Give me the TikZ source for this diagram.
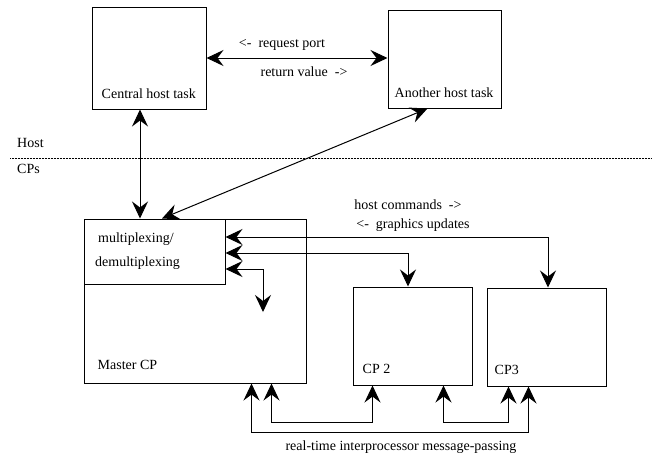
\documentclass[tikz,border=0pt]{standalone}
\usepackage{fontspec}
\setmainfont{Liberation Serif}
\usepackage{tikz}
\usetikzlibrary{arrows.meta}

\begin{document}
\begin{tikzpicture}[x=1pt,y=-1pt,
    >={Stealth[length=17pt,width=16pt,inset=6pt]},
    box/.style={draw, line width=1pt, inner sep=0pt},
    lbl/.style={font=\fontsize{14}{16}\selectfont, inner sep=0pt},
    link/.style={line width=1pt, <->}]
    \useasboundingbox (0,0) rectangle (657,459);
    \node[box, minimum width=114pt, minimum height=102pt] (ctask) at (149,58) {};
    \node[box, minimum width=113pt, minimum height=98pt] (otask) at (444.5,59) {};
    \node[box, minimum width=222pt, minimum height=164pt] (master) at (195,301) {};
    \node[box, minimum width=141pt, minimum height=65pt] (mux) at (154.5,251.5) {};
    \node[box, minimum width=119pt, minimum height=98pt] (cp2) at (412.5,336) {};
    \node[box, minimum width=119pt, minimum height=98pt] (cp3) at (546.5,337) {};
    \node[lbl, anchor=base west] (ctasklbl) at ([xshift=10pt,yshift=11pt]ctask.south west) {Central host task};
    \node[lbl, anchor=base west] (otasklbl) at ([xshift=7pt,yshift=11pt]otask.south west) {Another host task};
    \node[lbl, anchor=base west] (masterlbl) at ([xshift=14pt,yshift=14pt]master.south west) {Master CP};
    \node[lbl, anchor=base west] (cp2lbl) at ([xshift=10pt,yshift=12pt]cp2.south west) {CP 2};
    \node[lbl, anchor=base west] (cp3lbl) at ([xshift=8pt,yshift=12pt]cp3.south west) {CP3};
    \node[lbl, anchor=base west] (muxlbl1) at (98,242) {multiplexing/};
    \node[lbl, anchor=base west] (muxlbl2) at (95,266) {demultiplexing};
    \node[lbl, anchor=base west] (hostlbl) at (17,147) {Host};
    \node[lbl, anchor=base west] (cpslbl) at (17,173) {CPs};
    \node[lbl] (reqlbl) at (282,45) {<-\ \ request port};
    \node[lbl] (retlbl) at (304,72) {return value\ \ ->};
    \node[lbl] (cmdlbl) at (408,205) {host commands\ \ ->};
    \node[lbl] (gfxlbl) at (413,225) {<-\ \ graphics updates};
    \node[lbl] (msglbl) at (401,447) {real-time interprocessor message-passing};
    \coordinate (divl) at (10,158);
    \coordinate (divr) at (652,158);
    \coordinate (muxend) at (263,312);
    \draw[densely dotted, line width=0.5pt] (divl) -- (divr);
    \draw[link] (ctask.east) -- (ctask.east -| otask.west);
    \draw[link] ([xshift=-9pt]ctask.south) -- ([xshift=-9pt]ctask.south |- master.north);
    \draw[link] ([xshift=-17pt]otask.south) -- ([xshift=-33pt]master.north);
    \draw[link] ([yshift=14.5pt]mux.east) -| ([xshift=1.5pt]cp3.north);
    \draw[link] ([yshift=-1.5pt]mux.east) -| ([xshift=-4.5pt]cp2.north);
    \draw[link] ([yshift=-17.5pt]mux.east) -| (muxend);
    \draw[link] ([xshift=-35pt]master.south east) -- ++(0,39) -| ([xshift=20pt]cp2.south west);
    \draw[link] ([xshift=-29pt]cp2.south east) -- ++(0,37) -| ([xshift=22pt]cp3.south west);
    \draw[link] ([xshift=-55pt]master.south east) -- ++(0,49) -| ([xshift=42pt]cp3.south west);
\end{tikzpicture}
\end{document}
